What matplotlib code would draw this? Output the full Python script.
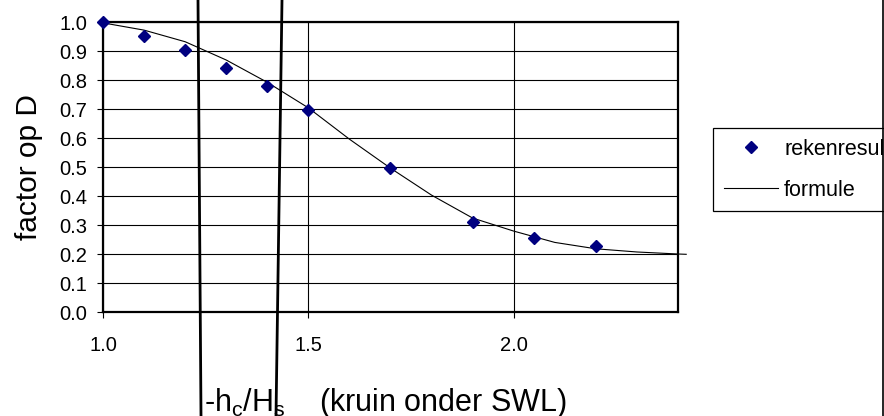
import matplotlib
matplotlib.use('Agg')
import matplotlib.pyplot as plt
from matplotlib.lines import Line2D

plt.rcParams['font.family'] = ['Liberation Sans', 'DejaVu Sans']
plt.rcParams['mathtext.fontset'] = 'custom'
plt.rcParams['mathtext.rm'] = 'Liberation Sans'
plt.rcParams['mathtext.it'] = 'Liberation Sans'
plt.rcParams['mathtext.default'] = 'regular'

# computed results (diamonds)
x_calc = [1.0, 1.1, 1.2, 1.3, 1.4, 1.5, 1.7, 1.9, 2.05, 2.2]
y_calc = [1.0, 0.954, 0.903, 0.841, 0.779, 0.698, 0.497, 0.310, 0.255, 0.229]

# formula curve
x_form = [1.0, 1.1, 1.2, 1.3, 1.4, 1.5, 1.6, 1.7, 1.8, 1.9, 2.0, 2.1, 2.2, 2.3, 2.4, 2.42]
y_form = [0.998, 0.973, 0.933, 0.870, 0.793, 0.705, 0.597, 0.497, 0.404, 0.325,
          0.280, 0.241, 0.219, 0.208, 0.201, 0.200]

x_ticks = [1.0, 1.5, 2.0]
y_ticks = [0.0, 0.1, 0.2, 0.3, 0.4, 0.5, 0.6, 0.7, 0.8, 0.9, 1.0]

W, H = 884, 416
fig = plt.figure(figsize=(W / 100, H / 100), dpi=100)
ax = fig.add_axes([103 / W, 1 - 312.3 / H, (678 - 103) / W, (312.3 - 22.3) / H])

pts, = ax.plot(x_calc, y_calc, linestyle='none', marker='D', markersize=6.3,
               color='#000080', clip_on=False, zorder=5, label='rekenresultaten')
form, = ax.plot(x_form, y_form, color='black', lw=0.8, clip_on=False, zorder=4,
                label='formule')

ax.set_xlim(1.0, 2.4)
ax.set_ylim(0.0, 1.0)
ax.set_xticks(x_ticks)
ax.set_xticklabels(['%.1f' % v for v in x_ticks])
ax.set_yticks(y_ticks)
ax.set_yticklabels(['%.1f' % v for v in y_ticks])
ax.grid(True, color='black', lw=0.8)
ax.set_axisbelow(True)
for s in ax.spines.values():
    s.set_linewidth(1.6)
    s.set_color('black')

ax.tick_params(axis='both', direction='out', length=4.3, width=0.8, labelsize=14.5)
ax.tick_params(axis='y', pad=7)
ax.tick_params(axis='x', pad=13)

ax.set_ylabel('factor op D', fontsize=21.5, labelpad=12)
fig.text(385.5 / W, 1 - 411 / H, '-h$_c$/H$_s$    (kruin onder SWL)',
         ha='center', va='baseline', fontsize=22)

leg = fig.legend([pts, form], ['rekenresultaten', 'formule'], loc='upper left',
                 bbox_to_anchor=(713 / W, 1 - 128 / H), borderaxespad=0,
                 fontsize=15.5, frameon=True, fancybox=False, framealpha=1,
                 edgecolor='black', handlelength=2.5, handletextpad=0.3,
                 borderpad=0.5, labelspacing=0.92)
leg.get_frame().set_linewidth(0.9)

# stray drawing lines over the chart
fig.add_artist(Line2D([198 / W, 201 / W], [1, 0], transform=fig.transFigure,
                      color='black', lw=2, zorder=10))
fig.add_artist(Line2D([282 / W, 276 / W], [1, 0], transform=fig.transFigure,
                      color='black', lw=2, zorder=10))
fig.add_artist(Line2D([882.5 / W, 882.5 / W], [1, 0], transform=fig.transFigure,
                      color='black', lw=1.2, zorder=10))

fig.savefig('out.png', dpi=100)
